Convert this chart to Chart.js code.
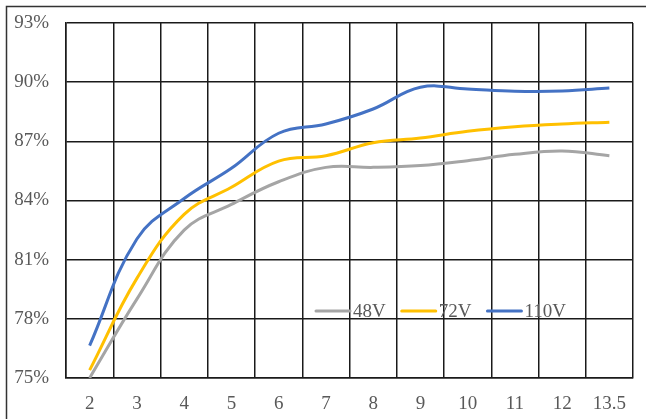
<!DOCTYPE html>
<html>
<head>
<meta charset="utf-8">
<script src="https://cdn.jsdelivr.net/npm/chart.js@4/dist/chart.umd.min.js"></script>
<style>
  html, body { margin: 0; padding: 0; background: #fff; }
  #wrap { position: relative; width: 646px; height: 419px; }
</style>
</head>
<body>
<div id="wrap"><canvas id="chart"></canvas></div>
<script>
const categories = ['2', '3', '4', '5', '6', '7', '8', '9', '10', '11', '12', '13.5'];
const series48 = [75.0, 79.0, 82.5, 83.8, 84.95, 85.68, 85.68, 85.77, 86.02, 86.34, 86.51, 86.27];
const series72 = [75.4, 80.05, 83.3, 84.67, 86.0, 86.27, 86.93, 87.17, 87.51, 87.74, 87.88, 87.97];
const series110 = [76.64, 82.05, 84.1, 85.63, 87.41, 87.88, 88.64, 89.74, 89.65, 89.54, 89.55, 89.7];
const yTicks = [75, 78, 81, 84, 87, 90, 93];

const textColor = '#595959';
const gridColor = '#1a1a1a';
const fontFamily = '"Liberation Serif", "Times New Roman", serif';

// frame lines round the figure (left and top only show in the picture)
const framePlugin = {
  id: 'frame',
  beforeDraw(chart) {
    const ctx = chart.ctx;
    ctx.save();
    ctx.fillStyle = '#fff';
    ctx.fillRect(0, 0, chart.width, chart.height);
    ctx.strokeStyle = '#333';
    ctx.lineWidth = 1.5;
    ctx.beginPath();
    ctx.moveTo(6.5, chart.height);
    ctx.lineTo(6.5, 6.5);
    ctx.lineTo(chart.width, 6.5);
    ctx.stroke();
    ctx.restore();
  },
};

// legend sits inside the plot, near the bottom
const inlineLegend = {
  id: 'inlineLegend',
  afterDatasetsDraw(chart) {
    const ctx = chart.ctx;
    let x = 316;
    const y = 311;
    ctx.save();
    ctx.font = '19px ' + fontFamily;
    ctx.textBaseline = 'middle';
    chart.data.datasets.forEach((ds) => {
      ctx.strokeStyle = ds.borderColor;
      ctx.lineWidth = 3;
      ctx.lineCap = 'round';
      ctx.beginPath();
      ctx.moveTo(x, y);
      ctx.lineTo(x + 34, y);
      ctx.stroke();
      ctx.fillStyle = textColor;
      ctx.fillText(ds.label, x + 37, y + 1);
      x += 37 + ctx.measureText(ds.label).width + 16;
    });
    ctx.restore();
  },
};

new Chart(document.getElementById('chart'), {
  type: 'line',
  data: {
    labels: categories,
    datasets: [
      { label: '48V', data: series48, borderColor: '#A5A5A5' },
      { label: '72V', data: series72, borderColor: '#FFC000' },
      { label: '110V', data: series110, borderColor: '#4472C4' },
    ].map((d) => ({ ...d, borderWidth: 3, tension: 0.4, pointRadius: 0, fill: false })),
  },
  options: {
    responsive: true,
    maintainAspectRatio: false,
    animation: false,
    layout: { padding: { left: 0, top: 23, right: 13, bottom: 0 } },
    plugins: {
      legend: { display: false },
      tooltip: { enabled: false },
    },
    scales: {
      x: {
        offset: true,
        grid: { offset: true, color: gridColor, lineWidth: 1.5, drawTicks: false },
        border: { color: gridColor, width: 1.5 },
        ticks: { color: textColor, padding: 15, font: { family: fontFamily, size: 19 }, maxRotation: 0 },
        afterFit: (scale) => { scale.height = 41; scale.paddingLeft = 0; scale.paddingRight = 0; },
      },
      y: {
        min: 75,
        max: 93,
        afterBuildTicks: (scale) => { scale.ticks = yTicks.map((v) => ({ value: v })); },
        grid: { color: gridColor, lineWidth: 1.5, drawTicks: false },
        border: { color: gridColor, width: 1.5 },
        ticks: {
          color: textColor,
          padding: 17,
          font: { family: fontFamily, size: 19 },
          callback: (value) => value + '%',
        },
        afterFit: (scale) => { scale.width = 66; scale.paddingTop = 0; scale.paddingBottom = 0; },
      },
    },
  },
  plugins: [framePlugin, inlineLegend],
});
</script>
</body>
</html>
